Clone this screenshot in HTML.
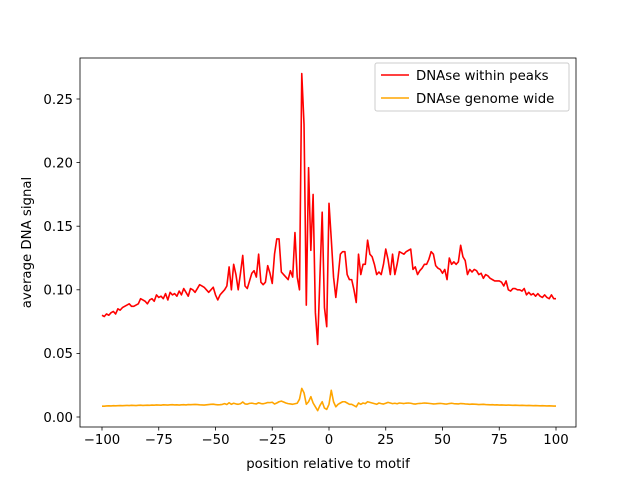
<!DOCTYPE html>
<html><head><meta charset="utf-8"><style>
html,body{margin:0;padding:0;background:#fff;}
svg text{font-family:"DejaVu Sans","Liberation Sans",sans-serif;font-size:13.3px;fill:#000;}
</style></head><body>
<svg id="chart" width="640" height="480" viewBox="0 0 640 480" xmlns="http://www.w3.org/2000/svg">
<rect width="640" height="480" fill="#fff"/>
<g id="plot"></g>
</svg>
<script>
const xTicks=[-100,-75,-50,-25,0,25,50,75,100];
const yTicks=[0,0.05,0.10,0.15,0.20,0.25];
const yTickLabels=["0.00","0.05","0.10","0.15","0.20","0.25"];
const seriesNames=["DNAse within peaks","DNAse genome wide"];
const peaks=[.080,.079,.081,.080,.082,.083,.081,.085,.084,.086,
.087,.088,.089,.087,.087,.088,.089,.093,.092,.091,
.089,.092,.093,.091,.096,.094,.095,.093,.097,.092,
.098,.096,.097,.095,.099,.096,.101,.098,.095,.101,
.100,.098,.101,.104,.103,.102,.100,.098,.100,.102,
.096,.092,.096,.098,.100,.103,.118,.100,.120,.112,
.100,.113,.127,.103,.101,.107,.113,.115,.110,.128,
.106,.104,.106,.119,.113,.105,.128,.140,.140,.114,
.112,.110,.108,.115,.110,.145,.110,.100,
.270,.230,.088,.196,.131,.175,.082,.057,.110,.161,.086,.071,.168,
.140,.110,.094,.110,.128,.130,.130,.112,.108,.108,.100,.090,.128,.112,.120,.120,.139,.128,.126,.120,
.112,.114,.112,.120,.132,.124,.112,.128,.112,.120,
.130,.129,.128,.130,.131,.132,.116,.118,.112,.115,
.117,.120,.120,.124,.130,.128,.119,.117,.116,.113,
.116,.108,.125,.120,.122,.120,.122,.135,.126,.123,
.112,.116,.114,.116,.115,.112,.113,.109,.112,.111,
.109,.108,.107,.107,.107,.106,.103,.107,.100,.099,
.101,.101,.100,.100,.099,.101,.096,.098,.096,.097,
.095,.097,.095,.094,.096,.094,.093,.096,.093,.093];
const genome=[.0085,.0085,.0087,.0088,.0087,.0089,.0088,.0089,.0090,.0089,
.0090,.0091,.0090,.0092,.0091,.0090,.0092,.0093,.0091,.0092,
.0093,.0092,.0094,.0093,.0095,.0094,.0093,.0096,.0095,.0094,
.0096,.0097,.0095,.0096,.0094,.0096,.0097,.0095,.0098,.0097,
.0098,.0099,.0098,.0096,.0095,.0094,.0096,.0098,.0100,.0101,
.0098,.0096,.0097,.0099,.0105,.0098,.0112,.0100,.0108,.0103,
.0100,.0104,.0118,.0103,.0101,.0107,.0109,.0105,.0103,.0112,
.0106,.0104,.0108,.0114,.0113,.0116,.0102,.0110,.0120,.0125,
.0118,.0110,.0105,.0103,.0100,.0104,.0108,.0140,
.0225,.0190,.0100,.0120,.0160,.0110,.0080,.0050,.0090,.0120,.0070,.0060,.0100,
.0210,.0120,.0080,.0100,.0110,.0120,.0120,.0110,.0100,.0100,.0090,.0080,.0110,.0100,.0110,.0105,.0120,.0115,.0110,.0105,
.0100,.0110,.0105,.0102,.0108,.0115,.0110,.0105,.0108,.0104,
.0110,.0108,.0106,.0109,.0110,.0108,.0104,.0102,.0105,.0107,
.0108,.0110,.0109,.0107,.0105,.0103,.0104,.0106,.0107,.0105,
.0103,.0102,.0106,.0108,.0105,.0104,.0103,.0106,.0105,.0103,
.0102,.0100,.0102,.0101,.0100,.0098,.0099,.0100,.0098,.0097,
.0096,.0097,.0095,.0096,.0094,.0095,.0094,.0093,.0094,.0093,
.0092,.0093,.0092,.0091,.0092,.0091,.0090,.0091,.0090,.0089,
.0090,.0089,.0088,.0089,.0088,.0087,.0088,.0087,.0086,.0086];

const L=80,R=576,T=58,B=427;
function X(v){return 329+v*2.27;}
function Y(v){return 417-v*1272;}
const NS="http://www.w3.org/2000/svg";
const g=document.getElementById('plot');
function el(t,a,p){const e=document.createElementNS(NS,t);for(const k in a)e.setAttribute(k,a[k]);(p||g).appendChild(e);return e;}

function line(data,color,name){
  let d="";
  data.forEach((v,i)=>{d+=(i?"L":"M")+X(i-100).toFixed(2)+","+Y(v).toFixed(2);});
  const p=el('path',{d:d,fill:'none',stroke:color,'stroke-width':1.6,'stroke-linejoin':'round'});
  
  
}
line(peaks,'#ff0000','series-within-peaks');
line(genome,'#ffa500','series-genome-wide');

const frame=el('rect',{x:L,y:T,width:R-L,height:B-T,fill:'none',stroke:'#000','stroke-width':0.8});



xTicks.forEach(t=>{
  const x=X(t);
  const tk=el('line',{x1:x,x2:x,y1:B,y2:B+3.5,stroke:'#000','stroke-width':0.8});
  
  
  const tx=el('text',{x:x,y:B+17,'text-anchor':'middle'});
  tx.textContent=t<0?'\u2212'+Math.abs(t):String(t);
  
  
});
yTicks.forEach((t,i)=>{
  const y=Y(t);
  const tk=el('line',{x1:L-3.5,x2:L,y1:y,y2:y,stroke:'#000','stroke-width':0.8});
  
  
  const tx=el('text',{x:L-7,y:y+4.8,'text-anchor':'end'});
  tx.textContent=yTickLabels[i];
  
  
});
const xl=el('text',{x:(L+R)/2,y:468,'text-anchor':'middle'});
xl.textContent='position relative to motif';


const yl=el('text',{x:31,y:(T+B)/2,'text-anchor':'middle',transform:'rotate(-90 31 '+((T+B)/2)+')'});
yl.textContent='average DNA signal';



const lg=el('g',{});


el('rect',{x:375,y:63,width:194,height:48,rx:2,fill:'#fff','fill-opacity':0.8,stroke:'#ccc','stroke-width':1},lg);
const colors=['#ff0000','#ffa500'];
seriesNames.forEach((n,i)=>{
  const y=75+i*23;
  const ln=el('line',{x1:381,x2:409,y1:y,y2:y,stroke:colors[i],'stroke-width':1.6},lg);
  
  
  const tx=el('text',{x:416,y:y+4.8},lg);
  tx.textContent=n;
  
  
});
</script>
</body></html>
